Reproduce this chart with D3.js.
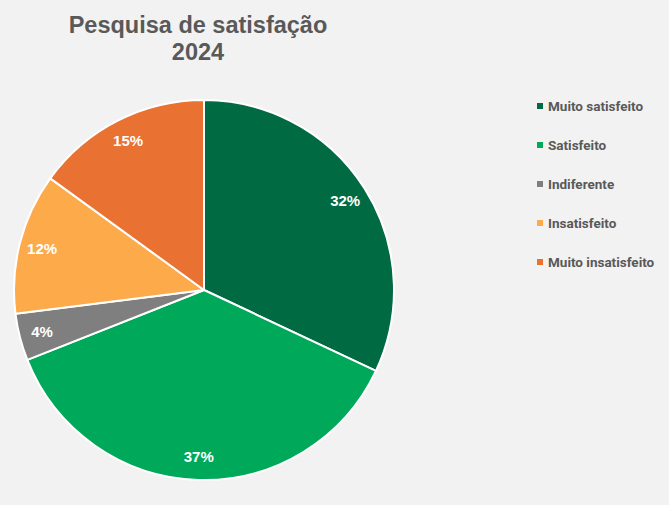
<!DOCTYPE html>
<html>
<head>
<meta charset="utf-8">
<script src="https://cdn.jsdelivr.net/npm/d3@7"></script>
<style>
  body { margin: 0; background: #f2f2f2; }
</style>
</head>
<body>
<div id="grafico"></div>
<script>
let categorias = ["Muito satisfeito", "Satisfeito", "Indiferente", "Insatisfeito", "Muito insatisfeito"];
let valores = [32, 37, 4, 12, 15];
let cores = ["#006a43", "#00a859", "#7f7f7f", "#fdaa4b", "#e97132"];

let width = 669, height = 505;
let cx = 204, cy = 290, raio = 190;

let svg = d3.select("#grafico")
    .append("svg")
    .attr("width", width)
    .attr("height", height)
    .style("display", "block")
    .style("background", "#f2f2f2");

let dataset = categorias.map((c, i) => ({nome: c, valor: valores[i]}));

let color = d3.scaleOrdinal()
    .domain(categorias)
    .range(cores);

let pie = d3.pie()
    .sort(null)
    .value(d => d.valor);

let arco = d3.arc()
    .innerRadius(0)
    .outerRadius(raio);

let arcoLabel = d3.arc()
    .innerRadius(raio * 0.88)
    .outerRadius(raio * 0.88);

let g = svg.append("g")
    .attr("transform", "translate(" + cx + "," + cy + ")");

g.selectAll("path")
    .data(pie(dataset))
    .enter()
    .append("path")
    .attr("d", arco)
    .attr("fill", d => color(d.data.nome))
    .attr("stroke", "#ffffff")
    .attr("stroke-width", 2)
    .attr("stroke-linejoin", "round");

g.selectAll("text.rotulo")
    .data(pie(dataset))
    .enter()
    .append("text")
    .attr("class", "rotulo")
    .attr("transform", d => "translate(" + arcoLabel.centroid(d) + ")")
    .attr("text-anchor", "middle")
    .attr("dy", "0.35em")
    .style("font-family", "'Liberation Sans', Arial, sans-serif")
    .style("font-weight", "bold")
    .style("font-size", "15px")
    .style("fill", "#ffffff")
    .text(d => d.data.valor + "%");

// titulo
let titulo = svg.append("text")
    .attr("text-anchor", "middle")
    .style("font-family", "'Liberation Sans', Arial, sans-serif")
    .style("font-weight", "bold")
    .style("font-size", "23.5px")
    .style("fill", "#595959");
titulo.append("tspan").attr("x", 198).attr("y", 33).text("Pesquisa de satisfação");
titulo.append("tspan").attr("x", 198).attr("y", 60).text("2024");

// legenda
let legenda = svg.append("g")
    .attr("transform", "translate(537,106)");

let itens = legenda.selectAll("g")
    .data(categorias)
    .enter()
    .append("g")
    .attr("transform", (d, i) => "translate(0," + i * 39 + ")");

itens.append("rect")
    .attr("x", 0)
    .attr("y", -3)
    .attr("width", 6)
    .attr("height", 6)
    .attr("fill", d => color(d));

itens.append("text")
    .attr("x", 11)
    .attr("dy", "0.35em")
    .style("font-family", "Roboto, sans-serif")
    .style("font-weight", "bold")
    .style("font-size", "13.5px")
    .style("fill", "#595959")
    .text(d => d);
</script>
</body>
</html>
